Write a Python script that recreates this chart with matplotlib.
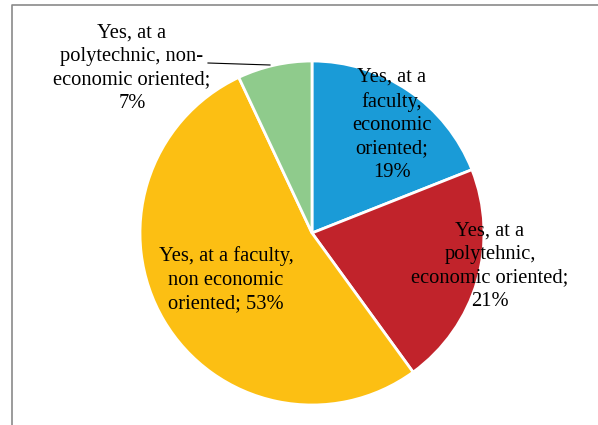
import matplotlib.pyplot as plt

# share of respondents by type of study
labels = ['Yes, at a\nfaculty,\neconomic\noriented;\n19%',
          'Yes, at a\npolytehnic,\neconomic oriented;\n21%',
          'Yes, at a faculty,\nnon economic\noriented; 53%',
          'Yes, at a\npolytechnic, non-\neconomic oriented;\n7%']
values = [19, 21, 53, 7]
colors = ['#1A9BD7', '#C1232B', '#FCBF13', '#8FCB8C']

W, H = 598, 425
fig = plt.figure(figsize=(W / 100, H / 100), dpi=100)
ax = fig.add_axes([0, 0, 1, 1])

# pie centre and radius in pixel units (y measured from bottom)
cx, cy, r = 312, H - 233, 172
ax.pie(values, colors=colors, startangle=90, counterclock=False,
       center=(cx, cy), radius=r, frame=True,
       wedgeprops=dict(edgecolor='white', linewidth=2))
ax.set_xlim(0, W)
ax.set_ylim(0, H)
ax.set_aspect('equal')
ax.axis('off')

font = dict(family='Liberation Serif', fontsize=14.8, ha='center', va='center',
            linespacing=1.32)
label_pos = [(392, 125), (490, 266), (226, 280), (132, 68)]
for txt, (px, py) in zip(labels, label_pos):
    ax.text(px, H - py, txt, **font)

# leader line for the small slice
ax.plot([208, 270], [H - 63, H - 65], color='black', lw=0.8)

# chart area border (cut at right and bottom)
ax.plot([12, 12, W + 5], [-5, H - 5, H - 5], color='#8a8a8a', lw=1.2,
        clip_on=False)

fig.savefig('out.png', dpi=100)
